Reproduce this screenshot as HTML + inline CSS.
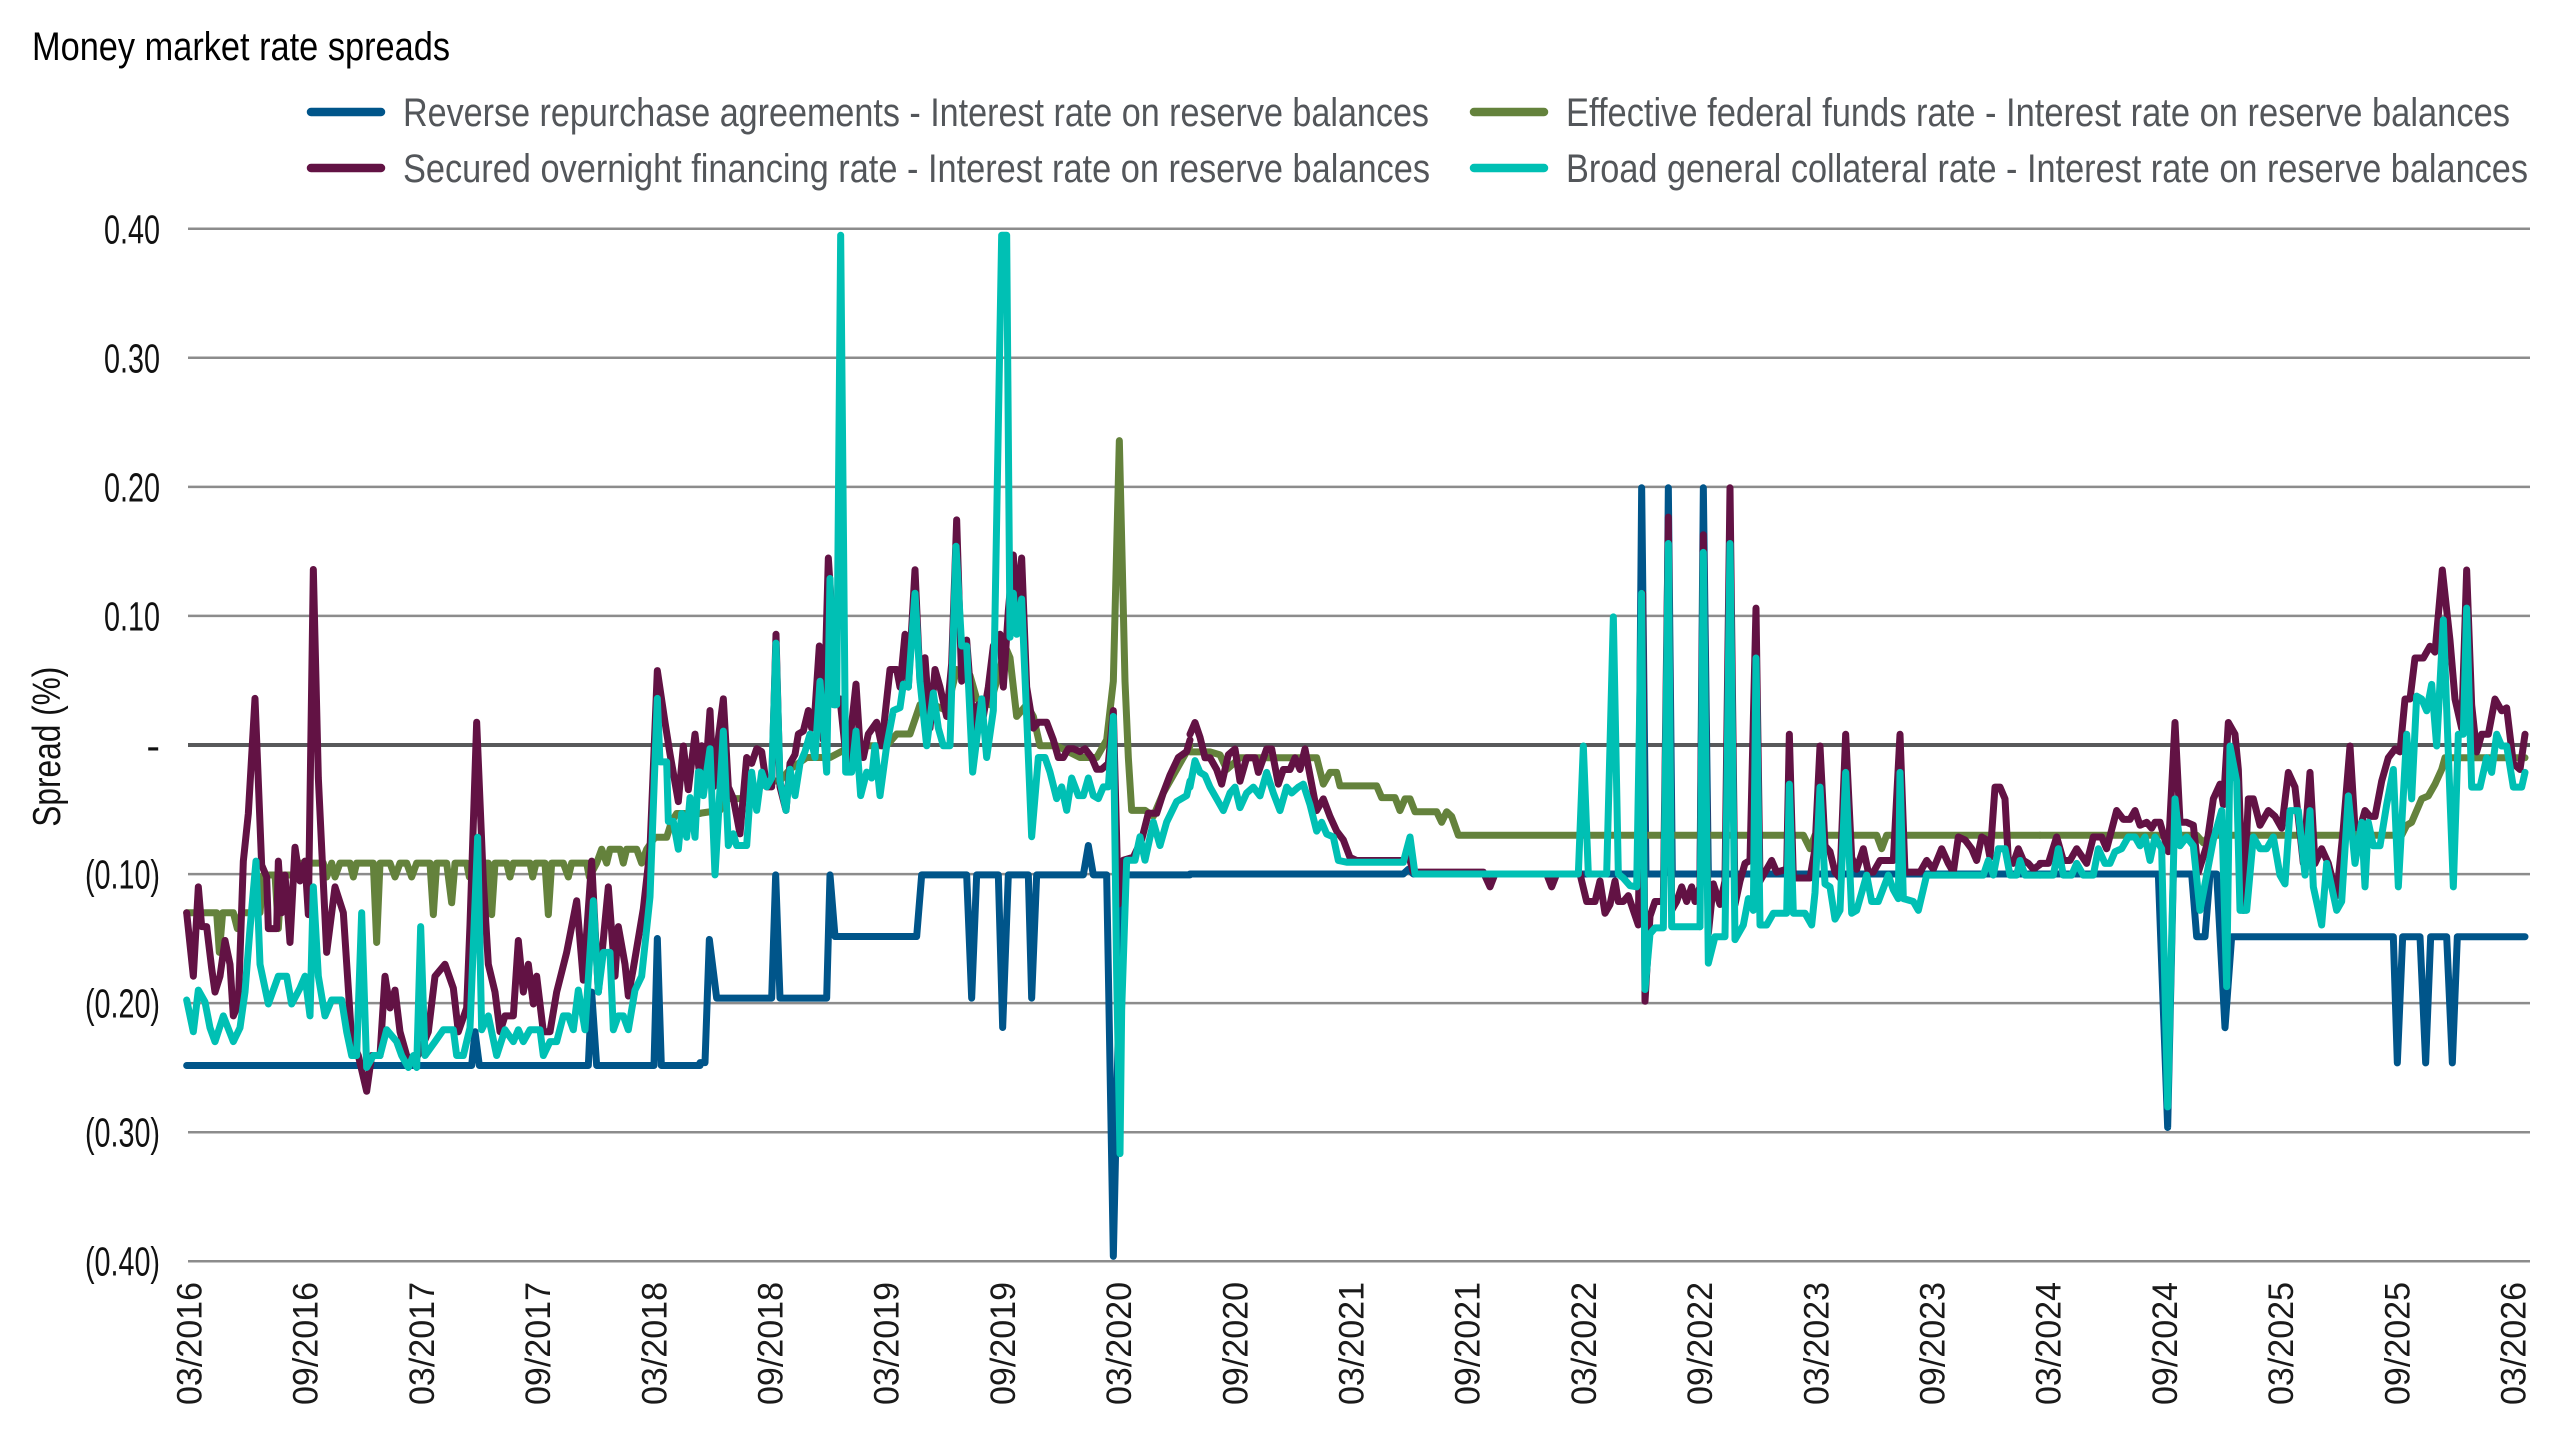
<!DOCTYPE html>
<html><head><meta charset="utf-8"><style>
html,body{margin:0;padding:0;background:#fff;}
svg{display:block;}
text{font-family:"Liberation Sans",sans-serif;}
.pl{fill:none;stroke-width:7;stroke-linejoin:round;stroke-linecap:round;}
</style></head><body>
<svg width="2560" height="1440" viewBox="0 0 2560 1440" xmlns="http://www.w3.org/2000/svg">
<rect width="2560" height="1440" fill="#fff"/>
<text x="32" y="60" font-size="40" fill="#000" textLength="418" lengthAdjust="spacingAndGlyphs">Money market rate spreads</text>
<g stroke-linecap="round" stroke-width="8.5">
<line x1="311" y1="112" x2="381" y2="112" stroke="#00558a"/>
<line x1="311" y1="168" x2="381" y2="168" stroke="#621244"/>
<line x1="1474" y1="112" x2="1544" y2="112" stroke="#64823c"/>
<line x1="1474" y1="168" x2="1544" y2="168" stroke="#00c0b4"/>
</g>
<g font-size="40" fill="#53565a">
<text x="403" y="126" textLength="1026" lengthAdjust="spacingAndGlyphs">Reverse repurchase agreements - Interest rate on reserve balances</text>
<text x="403" y="182" textLength="1027" lengthAdjust="spacingAndGlyphs">Secured overnight financing rate - Interest rate on reserve balances</text>
<text x="1566" y="126" textLength="944" lengthAdjust="spacingAndGlyphs">Effective federal funds rate - Interest rate on reserve balances</text>
<text x="1566" y="182" textLength="962" lengthAdjust="spacingAndGlyphs">Broad general collateral rate - Interest rate on reserve balances</text>
</g>
<g stroke="#8c8c8c" stroke-width="2.5">
<line x1="188" y1="228.8" x2="2530" y2="228.8"/>
<line x1="188" y1="357.8" x2="2530" y2="357.8"/>
<line x1="188" y1="486.9" x2="2530" y2="486.9"/>
<line x1="188" y1="615.9" x2="2530" y2="615.9"/>
<line x1="188" y1="874.1" x2="2530" y2="874.1"/>
<line x1="188" y1="1003.1" x2="2530" y2="1003.1"/>
<line x1="188" y1="1132.2" x2="2530" y2="1132.2"/>
<line x1="188" y1="1261.2" x2="2530" y2="1261.2"/>
</g>
<line x1="188" y1="745" x2="2530" y2="745" stroke="#58595b" stroke-width="4"/>
<g font-size="41" fill="#111" text-anchor="end">
<text x="160" y="243.5" textLength="56" lengthAdjust="spacingAndGlyphs">0.40</text>
<text x="160" y="372.5" textLength="56" lengthAdjust="spacingAndGlyphs">0.30</text>
<text x="160" y="501.5" textLength="56" lengthAdjust="spacingAndGlyphs">0.20</text>
<text x="160" y="630.5" textLength="56" lengthAdjust="spacingAndGlyphs">0.10</text>
<text x="160" y="760">-</text>
<text x="160" y="888.5" textLength="75" lengthAdjust="spacingAndGlyphs">(0.10)</text>
<text x="160" y="1017.5" textLength="75" lengthAdjust="spacingAndGlyphs">(0.20)</text>
<text x="160" y="1146.5" textLength="75" lengthAdjust="spacingAndGlyphs">(0.30)</text>
<text x="160" y="1275.5" textLength="75" lengthAdjust="spacingAndGlyphs">(0.40)</text>
</g>
<text transform="translate(60,746.7) rotate(-90)" x="0" y="0" font-size="39" fill="#111" text-anchor="middle" textLength="160" lengthAdjust="spacingAndGlyphs">Spread (%)</text>
<g font-size="35" fill="#1a1a1a" text-anchor="end">
<text transform="translate(201.5,1282) rotate(-90)" textLength="123" lengthAdjust="spacingAndGlyphs">03/2016</text>
<text transform="translate(317.7,1282) rotate(-90)" textLength="123" lengthAdjust="spacingAndGlyphs">09/2016</text>
<text transform="translate(433.9,1282) rotate(-90)" textLength="123" lengthAdjust="spacingAndGlyphs">03/2017</text>
<text transform="translate(550.1,1282) rotate(-90)" textLength="123" lengthAdjust="spacingAndGlyphs">09/2017</text>
<text transform="translate(666.3,1282) rotate(-90)" textLength="123" lengthAdjust="spacingAndGlyphs">03/2018</text>
<text transform="translate(782.5,1282) rotate(-90)" textLength="123" lengthAdjust="spacingAndGlyphs">09/2018</text>
<text transform="translate(898.7,1282) rotate(-90)" textLength="123" lengthAdjust="spacingAndGlyphs">03/2019</text>
<text transform="translate(1014.9,1282) rotate(-90)" textLength="123" lengthAdjust="spacingAndGlyphs">09/2019</text>
<text transform="translate(1131.1,1282) rotate(-90)" textLength="123" lengthAdjust="spacingAndGlyphs">03/2020</text>
<text transform="translate(1247.3,1282) rotate(-90)" textLength="123" lengthAdjust="spacingAndGlyphs">09/2020</text>
<text transform="translate(1363.5,1282) rotate(-90)" textLength="123" lengthAdjust="spacingAndGlyphs">03/2021</text>
<text transform="translate(1479.7,1282) rotate(-90)" textLength="123" lengthAdjust="spacingAndGlyphs">09/2021</text>
<text transform="translate(1595.9,1282) rotate(-90)" textLength="123" lengthAdjust="spacingAndGlyphs">03/2022</text>
<text transform="translate(1712.1,1282) rotate(-90)" textLength="123" lengthAdjust="spacingAndGlyphs">09/2022</text>
<text transform="translate(1828.3,1282) rotate(-90)" textLength="123" lengthAdjust="spacingAndGlyphs">03/2023</text>
<text transform="translate(1944.5,1282) rotate(-90)" textLength="123" lengthAdjust="spacingAndGlyphs">09/2023</text>
<text transform="translate(2060.7,1282) rotate(-90)" textLength="123" lengthAdjust="spacingAndGlyphs">03/2024</text>
<text transform="translate(2176.9,1282) rotate(-90)" textLength="123" lengthAdjust="spacingAndGlyphs">09/2024</text>
<text transform="translate(2293.1,1282) rotate(-90)" textLength="123" lengthAdjust="spacingAndGlyphs">03/2025</text>
<text transform="translate(2409.3,1282) rotate(-90)" textLength="123" lengthAdjust="spacingAndGlyphs">09/2025</text>
<text transform="translate(2525.5,1282) rotate(-90)" textLength="123" lengthAdjust="spacingAndGlyphs">03/2026</text>
</g>

<!-- Blue: RRP -->
<g class="s" stroke="#00558a">
<polyline class="pl" vector-effect="non-scaling-stroke" transform="translate(180,500) scale(0.333333,0.396825)" points="20,1425 875,1425 885,1340 898,1425 1225,1425 1235,1240 1250,1425 1422,1425 1432,1105 1444,1425 1560,1425"/>
<polyline class="pl" vector-effect="non-scaling-stroke" transform="translate(680,200) scale(0.333333,0.586854)" points="60,1470 75,1470 88,1260 110,1360 275,1360 287,1150 300,1360 440,1360 450,1150 465,1255 710,1255 725,1150 860,1150 875,1360 890,1150 955,1150 968,1410 985,1150 1045,1150 1055,1360 1070,1150 1210,1150 1225,1100 1240,1150 1280,1150 1300,1800 1325,1150 1530,1150"/>
<polyline class="pl" vector-effect="non-scaling-stroke" transform="translate(1190,300) scale(0.333333,0.586854)" points="0,978 640,978 655,970 670,978 1345,978 1355,320 1368,978 1425,978 1435,320 1447,978 1530,978"/>
<polyline class="pl" vector-effect="non-scaling-stroke" transform="translate(1700,300) scale(0.333333,0.586854)" points="0,978 10,320 25,978 1020,978"/>
<polyline class="pl" vector-effect="non-scaling-stroke" transform="translate(2040,300) scale(0.333333,0.586854)" points="0,978 355,978 383,1410 400,978 455,978 470,1085 495,1085 510,978 530,978 555,1240 575,1085 1060,1085 1072,1300 1088,1085 1140,1085 1157,1300 1172,1085 1220,1085 1237,1300 1252,1085 1455,1085"/>
</g>

<!-- Green: EFFR -->
<g stroke="#64823c">
<polyline class="pl" vector-effect="non-scaling-stroke" transform="translate(180,500) scale(0.333333,0.396825)" points="20,1040 110,1040 118,1140 128,1040 160,1040 172,1080 185,1040 240,1040 250,945 285,945 295,1080 305,945 345,945 360,915 430,915 440,950 455,915 465,950 480,915 510,915 520,950 530,915 580,915 590,1115 600,915 630,915 645,950 660,915 680,915 695,950 710,915 750,915 760,1045 770,915 800,915 815,1015 825,915 860,915 868,950 880,915 925,915 935,1045 945,915 980,915 990,950 1000,915 1050,915 1058,950 1068,915 1095,915 1105,1045 1115,915 1150,915 1165,950 1175,915 1220,915 1228,950 1250,915 1265,880 1280,915 1290,880 1320,880 1330,915 1340,880 1370,880 1385,915 1400,880 1425,850 1460,850 1475,810 1490,790 1520,790 1560,790"/>
<polyline class="pl" vector-effect="non-scaling-stroke" transform="translate(680,200) scale(0.333333,0.586854)" points="60,1045 120,1040 140,1020 200,1020 240,1000 260,990 300,990 330,970 380,950 450,950 500,935 560,930 620,930 650,910 690,910 720,860 760,860 800,870 830,800 870,810 890,850 930,860 960,800 975,760 990,780 1010,880 1040,860 1060,880 1080,930 1130,930 1200,950 1250,950 1280,920 1300,820 1318,410 1335,820 1345,950 1355,1040 1395,1040 1420,1050 1450,1010 1500,960 1530,930"/>
<polyline class="pl" vector-effect="non-scaling-stroke" transform="translate(1190,300) scale(0.333333,0.586854)" points="0,770 60,770 90,775 110,800 150,780 260,780 290,780 380,780 400,825 420,805 440,805 450,828 560,828 575,848 615,848 630,870 645,850 660,850 675,872 740,872 755,890 770,872 785,880 805,912 1530,912"/>
<polyline class="pl" vector-effect="non-scaling-stroke" transform="translate(1700,300) scale(0.333333,0.586854)" points="0,912 310,912 330,935 345,912 530,912 545,935 560,912 1020,912"/>
<polyline class="pl" vector-effect="non-scaling-stroke" transform="translate(2040,300) scale(0.333333,0.586854)" points="0,912 470,912 490,925 510,912 1085,912 1100,895 1115,890 1145,850 1165,845 1185,825 1205,800 1215,780 1455,780"/>
</g>

<!-- Purple: SOFR -->
<g stroke="#621244">
<polyline class="pl" vector-effect="non-scaling-stroke" transform="translate(180,500) scale(0.333333,0.396825)" points="20,1040 40,1200 55,975 65,1075 80,1075 95,1180 105,1240 120,1200 135,1110 150,1170 160,1300 175,1270 190,910 205,790 225,500 245,920 260,950 265,1080 290,1080 295,910 305,1040 315,945 330,1115 345,875 360,960 375,910 385,1045 400,175 415,700 440,1140 465,975 490,1040 515,1360 535,1400 560,1490 575,1400 600,1400 615,1200 630,1280 645,1235 660,1340 680,1400 700,1420 720,1390 745,1340 765,1200 795,1170 820,1230 835,1340 860,1280 870,1070 890,560 910,960 925,1170 945,1240 960,1340 975,1300 1000,1300 1015,1110 1030,1240 1045,1170 1060,1270 1070,1200 1090,1340 1110,1340 1130,1240 1160,1140 1190,1010 1210,1210 1235,910 1255,1240 1285,975 1305,1200 1315,1075 1335,1170 1345,1250 1360,1180 1390,1030 1410,880 1432,430 1455,560 1470,640 1495,760 1510,620 1525,730 1545,590 1560,700"/>
<polyline class="pl" vector-effect="non-scaling-stroke" transform="translate(680,200) scale(0.333333,0.586854)" points="60,985 65,930 75,990 90,870 100,1000 110,940 130,850 145,1000 160,1020 180,1080 200,950 215,960 230,935 245,940 260,1000 275,1000 288,740 300,1000 318,1040 330,960 345,945 355,910 370,905 385,870 395,900 405,870 418,760 430,920 445,610 455,700 465,860 480,850 500,960 510,920 528,825 540,930 550,950 565,910 590,890 605,930 630,800 650,800 660,830 675,740 685,830 705,630 720,820 735,780 750,900 765,800 780,830 800,880 815,790 830,545 845,820 860,750 880,900 895,860 910,880 925,830 940,760 960,740 970,830 985,700 1000,605 1010,700 1025,610 1040,830 1060,900 1075,890 1100,890 1120,920 1135,950 1150,950 1165,935 1180,935 1200,940 1215,935 1235,950 1250,970 1265,970 1285,960 1300,870 1315,1200 1330,1125 1360,1120 1385,1090 1405,1045 1430,1045 1450,1010 1470,980 1495,950 1520,940 1530,920"/>
<polyline class="pl" vector-effect="non-scaling-stroke" transform="translate(1190,300) scale(0.333333,0.586854)" points="0,740 15,720 30,745 45,780 60,780 80,800 95,825 115,775 135,765 150,820 170,780 195,780 205,805 230,765 245,765 265,825 280,800 300,800 315,780 330,800 345,765 360,810 380,870 400,850 420,880 440,905 460,920 480,950 500,955 640,955 655,945 670,975 880,975 900,1000 915,978 1070,978 1085,1000 1100,978 1170,978 1190,1025 1215,1025 1230,990 1245,1045 1260,1030 1275,990 1285,1025 1300,1025 1315,1015 1330,1040 1345,1065 1358,500 1365,1195 1380,1050 1395,1025 1420,1025 1435,370 1445,1040 1460,1025 1475,1000 1490,1025 1505,1000 1515,1025 1530,1000"/>
<polyline class="pl" vector-effect="non-scaling-stroke" transform="translate(1700,300) scale(0.333333,0.586854)" points="0,1000 10,400 25,1080 40,995 60,1030 75,990 90,320 105,1030 120,990 135,960 150,955 168,525 180,990 200,970 215,955 230,975 260,970 268,740 280,985 330,985 345,935 360,760 375,930 390,940 405,975 420,985 437,740 455,950 470,970 490,935 505,975 520,975 540,955 580,955 600,740 615,975 660,975 680,955 700,970 725,935 745,960 760,975 775,915 795,920 815,935 830,955 845,915 860,920 870,950 885,830 900,830 915,850 925,955 940,960 955,935 970,955 985,960 1000,970 1020,962"/>
<polyline class="pl" vector-effect="non-scaling-stroke" transform="translate(2040,300) scale(0.333333,0.586854)" points="0,960 25,960 50,915 70,955 90,955 110,935 140,960 160,915 185,915 200,935 230,870 250,885 270,885 285,870 300,895 320,890 335,900 345,890 360,890 385,940 405,720 420,890 440,890 460,895 475,975 500,930 520,850 540,825 550,860 565,720 585,740 595,800 610,1040 625,850 640,850 660,895 685,870 705,880 725,900 745,805 765,830 790,960 810,805 825,960 845,935 865,960 890,1015 910,900 930,760 945,900 960,900 975,870 990,880 1005,880 1025,820 1045,780 1065,765 1080,770 1095,680 1110,680 1125,610 1150,610 1170,590 1185,600 1207,460 1230,580 1245,680 1265,730 1280,460 1295,690 1310,770 1325,740 1345,740 1365,680 1385,700 1400,695 1420,790 1440,800 1455,740"/>
</g>

<!-- Teal: BGCR -->
<g stroke="#00c0b4">
<polyline class="pl" vector-effect="non-scaling-stroke" transform="translate(180,500) scale(0.333333,0.396825)" points="20,1260 40,1340 55,1235 75,1265 90,1330 105,1365 130,1300 160,1365 180,1330 195,1240 210,1080 228,910 240,1170 265,1270 295,1200 320,1200 335,1270 360,1230 375,1200 390,1300 400,975 415,1200 435,1300 455,1260 485,1260 500,1340 515,1400 530,1400 545,1040 560,1430 580,1400 600,1400 620,1335 650,1365 665,1400 685,1430 700,1400 710,1430 722,1075 735,1400 765,1365 790,1335 820,1335 830,1400 850,1400 870,1330 893,850 905,1335 925,1300 950,1400 975,1335 1000,1365 1015,1335 1030,1365 1050,1335 1080,1335 1090,1400 1110,1365 1130,1365 1150,1300 1165,1300 1180,1335 1195,1235 1215,1335 1240,1010 1255,1240 1270,1140 1290,1140 1300,1335 1315,1300 1330,1300 1345,1335 1365,1235 1385,1200 1410,1000 1432,500 1440,660 1460,660 1465,810 1480,810 1495,880 1505,790 1520,850 1530,750 1545,850 1555,685 1560,690"/>
<polyline class="pl" vector-effect="non-scaling-stroke" transform="translate(680,200) scale(0.333333,0.586854)" points="60,975 70,1015 90,935 105,1150 130,905 145,1100 160,1080 170,1100 200,1100 215,975 230,1040 245,975 260,1000 275,985 288,755 300,990 318,1040 330,970 345,1015 360,960 375,940 390,910 405,950 420,820 440,975 450,645 460,860 470,860 482,60 497,975 515,975 528,905 542,1015 560,975 575,985 585,930 600,1015 620,930 640,870 660,865 670,825 685,830 705,670 720,820 740,930 760,840 775,900 790,930 810,930 828,590 845,760 860,760 878,975 905,850 920,950 940,870 965,60 980,60 990,745 1000,670 1010,740 1025,680 1040,880 1055,1085 1075,950 1095,950 1110,975 1130,1020 1145,1000 1160,1040 1175,985 1195,1015 1210,1015 1225,985 1240,1015 1255,1020 1270,1000 1285,1000 1300,880 1310,1320 1320,1625 1325,1380 1340,1125 1365,1125 1380,1085 1395,1125 1420,1060 1440,1100 1460,1060 1490,1025 1520,1015 1530,990"/>
<polyline class="pl" vector-effect="non-scaling-stroke" transform="translate(1190,300) scale(0.333333,0.586854)" points="0,830 15,785 30,805 45,810 60,830 80,850 100,870 120,840 135,830 150,865 170,840 190,830 210,845 230,805 250,840 270,870 290,830 305,840 325,830 340,825 360,860 380,905 395,890 410,910 430,915 445,955 470,958 640,958 660,915 675,978 1165,978 1180,760 1195,978 1250,978 1270,540 1285,978 1300,985 1320,998 1340,1000 1355,500 1365,1175 1380,1080 1395,1070 1420,1070 1435,415 1445,1068 1515,1068 1530,1068"/>
<polyline class="pl" vector-effect="non-scaling-stroke" transform="translate(1700,300) scale(0.333333,0.586854)" points="0,1068 10,430 25,1130 45,1085 75,1085 90,415 105,1090 130,1065 145,1020 160,1040 168,610 180,1065 200,1065 220,1045 260,1045 268,825 280,1045 315,1045 335,1065 345,1010 360,830 375,995 390,1000 405,1055 420,1040 437,805 455,1045 470,1040 485,1010 500,980 515,1025 535,1025 565,980 580,1005 595,1020 600,805 610,1020 640,1025 655,1040 680,980 850,980 865,955 880,980 895,935 915,935 930,980 950,980 960,955 975,980 1020,980"/>
<polyline class="pl" vector-effect="non-scaling-stroke" transform="translate(2040,300) scale(0.333333,0.586854)" points="0,980 40,980 55,935 70,980 95,980 110,960 130,980 160,980 175,935 195,960 210,960 225,940 245,935 265,915 285,915 300,930 315,915 330,955 345,915 365,935 383,1375 405,850 420,930 440,915 460,930 480,1040 500,980 520,920 545,870 560,1170 570,760 590,820 600,1040 620,1040 640,915 660,935 680,935 700,915 720,980 735,995 750,870 775,870 795,980 810,870 820,1000 845,1065 860,960 890,1040 905,1025 925,845 945,960 965,890 975,1000 985,890 1000,930 1020,930 1040,860 1060,800 1075,1000 1100,740 1115,850 1130,675 1145,680 1160,700 1175,655 1190,760 1210,545 1240,1000 1255,740 1270,740 1280,525 1295,830 1320,830 1340,780 1355,805 1370,740 1385,760 1400,760 1420,830 1445,830 1455,805"/>
</g>
</svg>
</body></html>
